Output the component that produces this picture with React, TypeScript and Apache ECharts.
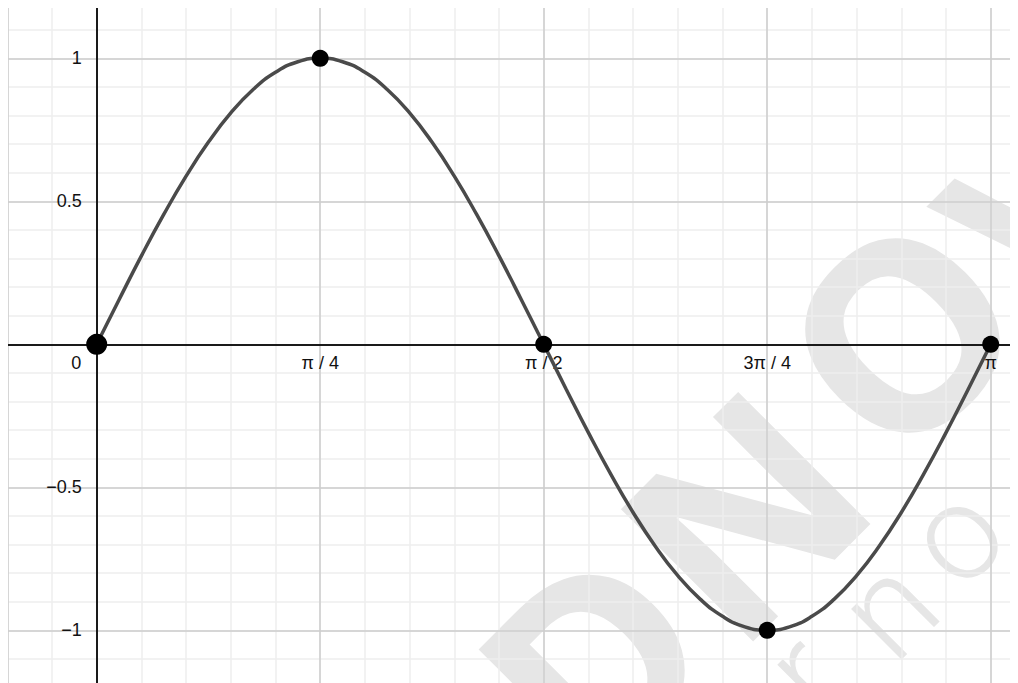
import React, { useEffect, useRef } from "react";
import * as echarts from "echarts";

// x is expressed in units of π/4 (0 → 0, 4 → π)
const curveX = [
  0, 0.1, 0.2, 0.3, 0.4, 0.5, 0.6, 0.7, 0.8, 0.9, 1.0,
  1.1, 1.2, 1.3, 1.4, 1.5, 1.6, 1.7, 1.8, 1.9, 2.0,
  2.1, 2.2, 2.3, 2.4, 2.5, 2.6, 2.7, 2.8, 2.9, 3.0,
  3.1, 3.2, 3.3, 3.4, 3.5, 3.6, 3.7, 3.8, 3.9, 4.0,
];
const curveY = [
  0, 0.156, 0.309, 0.454, 0.588, 0.707, 0.809, 0.891, 0.951, 0.988, 1,
  0.988, 0.951, 0.891, 0.809, 0.707, 0.588, 0.454, 0.309, 0.156, 0,
  -0.156, -0.309, -0.454, -0.588, -0.707, -0.809, -0.891, -0.951, -0.988, -1,
  -0.988, -0.951, -0.891, -0.809, -0.707, -0.588, -0.454, -0.309, -0.156, 0,
];
const pointsX = [0, 1, 2, 3, 4];
const pointsY = [0, 1, 0, -1, 0];

const xTickLabels = ["0", "π / 4", "π / 2", "3π / 4", "π"];
const yTickValues = [-1, -0.5, 0.5, 1];
const yTickLabels = ["−1", "−0.5", "0.5", "1"];

const bigWatermark = ["D", "N", "O", "V"];
const smallWatermark = ["r", "n", "o", "c"];

const X_MIN = -0.4;
const X_MAX = 4.2;
const Y_MIN = -1.2;
const Y_MAX = 1.2;

const GRID_LEFT = -0.7;
const GRID_RIGHT = -17.4;
const GRID_TOP = -6.9;
const GRID_BOTTOM = -4.5;
const CHART_W = 1010;
const CHART_H = 675;

const LABEL_FONT = "'Liberation Sans', Arial, sans-serif";
const LABEL_SIZE = 18;
const LABEL_COLOR = "#111111";

export default function App() {
  const ref = useRef<HTMLDivElement>(null);

  useEffect(() => {
    document.documentElement.style.overflow = "hidden";
    document.body.style.overflow = "hidden";
    if (!ref.current) return;
    const chart = echarts.init(ref.current, null, { renderer: "svg" });

    // place the labelled axes on the zero lines through the axis offset
    const plotW = CHART_W - GRID_LEFT - GRID_RIGHT;
    const plotH = CHART_H - GRID_TOP - GRID_BOTTOM;
    const zeroX = GRID_LEFT + ((0 - X_MIN) / (X_MAX - X_MIN)) * plotW;
    const zeroY = GRID_TOP + ((Y_MAX - 0) / (Y_MAX - Y_MIN)) * plotH;
    const gridBottomY = CHART_H - GRID_BOTTOM;
    const xAxisOffset = -(gridBottomY - zeroY);
    const yAxisOffset = -(zeroX - GRID_LEFT);

    const bigPos = [
      [583, 650],
      [732, 503],
      [889, 322],
      [1039, 199],
    ];
    const smallPos = [
      [796, 666],
      [880, 600],
      [947, 527],
      [1030, 450],
    ];

    const graphics: any[] = [];
    bigWatermark.forEach((ch, i) => {
      graphics.push({
        type: "text",
        x: bigPos[i][0],
        y: bigPos[i][1],
        rotation: Math.PI / 4,
        z: 0,
        silent: true,
        style: {
          text: ch,
          fontSize: 262,
          fontWeight: "bold",
          fontFamily: "'Open Sans', sans-serif",
          fill: "#e6e6e6",
          align: "center",
          verticalAlign: "middle",
        },
      });
    });
    smallWatermark.forEach((ch, i) => {
      graphics.push({
        type: "text",
        x: smallPos[i][0],
        y: smallPos[i][1],
        rotation: Math.PI / 4,
        z: 0,
        silent: true,
        style: {
          text: ch,
          fontSize: 135,
          fontWeight: 300,
          fontFamily: "Roboto, sans-serif",
          fill: "#e6e6e6",
          align: "center",
          verticalAlign: "middle",
        },
      });
    });

    const hidden = {
      axisLine: { show: false },
      axisTick: { show: false },
      axisLabel: { show: false },
    };

    const xFormatter = (v: number) => {
      const r = Math.round(v);
      if (Math.abs(v - r) > 1e-6 || r < 0 || r >= xTickLabels.length) return "";
      if (r === 0) return "{z|" + xTickLabels[0] + "}";
      return xTickLabels[r];
    };
    const yFormatter = (v: number) => {
      for (let i = 0; i < yTickValues.length; i++) {
        if (Math.abs(v - yTickValues[i]) < 1e-6) return yTickLabels[i];
      }
      return "";
    };

    const option: any = {
      animation: false,
      backgroundColor: "#ffffff",
      grid: {
        left: GRID_LEFT,
        right: GRID_RIGHT,
        top: GRID_TOP,
        bottom: GRID_BOTTOM,
        containLabel: false,
        outerBoundsMode: "none",
      },
      graphic: graphics,
      xAxis: [
        {
          type: "value",
          min: X_MIN,
          max: X_MAX,
          interval: 0.2,
          position: "bottom",
          ...hidden,
          splitLine: { show: true, lineStyle: { color: "#eeeeee", width: 1.5 } },
          z: 1,
        },
        {
          type: "value",
          min: X_MIN,
          max: X_MAX,
          minInterval: 1,
          maxInterval: 1,
          splitNumber: 5,
          position: "bottom",
          ...hidden,
          splitLine: { show: true, lineStyle: { color: "#cccccc", width: 1.5 } },
          z: 2,
        },
        {
          type: "value",
          min: X_MIN,
          max: X_MAX,
          minInterval: 1,
          maxInterval: 1,
          splitNumber: 5,
          position: "bottom",
          offset: xAxisOffset,
          axisLine: {
            show: true,
            onZero: false,
            lineStyle: { color: "#1a1a1a", width: 2 },
          },
          axisTick: { show: false },
          splitLine: { show: false },
          axisLabel: {
            show: true,
            margin: 10,
            fontSize: LABEL_SIZE,
            fontFamily: LABEL_FONT,
            color: LABEL_COLOR,
            showMinLabel: true,
            showMaxLabel: true,
            formatter: xFormatter,
            rich: {
              z: {
                fontSize: LABEL_SIZE,
                fontFamily: LABEL_FONT,
                color: LABEL_COLOR,
                padding: [0, 41, 0, 0],
              },
            },
          },
          z: 3,
        },
      ],
      yAxis: [
        {
          type: "value",
          min: Y_MIN,
          max: Y_MAX,
          interval: 0.1,
          position: "left",
          ...hidden,
          splitLine: { show: true, lineStyle: { color: "#eeeeee", width: 1.5 } },
          z: 1,
        },
        {
          type: "value",
          min: Y_MIN,
          max: Y_MAX,
          minInterval: 0.5,
          maxInterval: 0.5,
          splitNumber: 5,
          position: "left",
          ...hidden,
          splitLine: { show: true, lineStyle: { color: "#cccccc", width: 1.5 } },
          z: 2,
        },
        {
          type: "value",
          min: Y_MIN,
          max: Y_MAX,
          minInterval: 0.5,
          maxInterval: 0.5,
          splitNumber: 5,
          position: "left",
          offset: yAxisOffset,
          axisLine: {
            show: true,
            onZero: false,
            lineStyle: { color: "#1a1a1a", width: 2 },
          },
          axisTick: { show: false },
          splitLine: { show: false },
          axisLabel: {
            show: true,
            margin: 15,
            fontSize: LABEL_SIZE,
            fontFamily: LABEL_FONT,
            color: LABEL_COLOR,
            formatter: yFormatter,
          },
          z: 3,
        },
      ],
      series: [
        {
          type: "line",
          xAxisIndex: 0,
          yAxisIndex: 0,
          data: curveX.map((x, i) => [x, curveY[i]]),
          smooth: true,
          symbol: "none",
          showSymbol: false,
          lineStyle: { color: "#4a4a4a", width: 3.5 },
          z: 4,
          silent: true,
        },
        {
          type: "scatter",
          xAxisIndex: 0,
          yAxisIndex: 0,
          data: pointsX.map((x, i) => [x, pointsY[i]]),
          symbol: "circle",
          symbolSize: (_v: any, p: any) => (p.dataIndex === 0 ? 21 : 17),
          itemStyle: { color: "#000000", opacity: 1 },
          z: 5,
          silent: true,
        },
      ],
    };

    chart.setOption(option);
    return () => {
      chart.dispose();
    };
  }, []);

  return <div ref={ref} style={{ width: CHART_W, height: CHART_H }} />;
}
